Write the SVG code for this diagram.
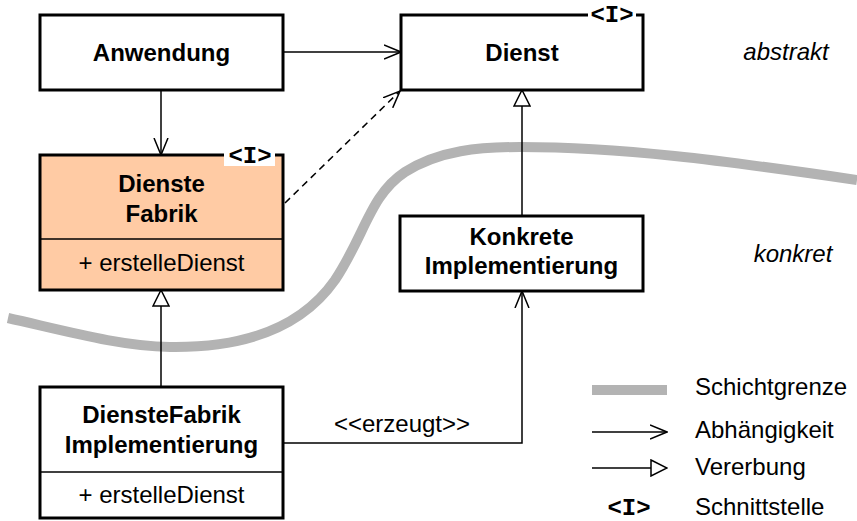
<svg xmlns="http://www.w3.org/2000/svg" width="857" height="521" viewBox="0 0 857 521">
<defs>
<style>
.box{fill:#fff;stroke:#000;stroke-width:3}
.peach{fill:#FFCBA4;stroke:#000;stroke-width:3}
.div{stroke:#000;stroke-width:1.5}
.b{font-family:"Liberation Sans",Arial,sans-serif;font-size:24px;font-weight:bold;text-anchor:middle;fill:#000}
.r{font-family:"Liberation Sans",Arial,sans-serif;font-size:24px;text-anchor:middle;fill:#000}
.l{font-family:"Liberation Sans",Arial,sans-serif;font-size:24px;fill:#000}
.it{font-family:"Liberation Sans",Arial,sans-serif;font-size:24px;font-style:italic;text-anchor:middle;fill:#000}
.mono{font-family:"Liberation Mono","Courier New",monospace;font-size:24px;font-weight:bold;text-anchor:middle;fill:#000}
.conn{fill:none;stroke:#000;stroke-width:1.5}
.dash{stroke-dasharray:7,5}
.layer{fill:none;stroke:#b3b3b3;stroke-width:10}
</style>
<marker id="open" viewBox="0 0 18 16" refX="17" refY="8" markerWidth="18" markerHeight="16" markerUnits="userSpaceOnUse" orient="auto">
<path d="M0,1 L17,8 L0,15" fill="none" stroke="#000" stroke-width="1.5"/>
</marker>
<marker id="tri" viewBox="0 0 18 18" refX="17" refY="9" markerWidth="18" markerHeight="18" markerUnits="userSpaceOnUse" orient="auto">
<path d="M1,1 L17,9 L1,17 Z" fill="#fff" stroke="#000" stroke-width="1.5"/>
</marker>
</defs>
<rect width="857" height="521" fill="#fff"/>

<path class="layer" d="M8,318 C70,332 120,346 170,347 C240,348 300,330 335,280 C365,235 370,195 405,172 C440,150 480,147 520,147 C620,147 720,160 857,180"/>

<g id="connectors">
<line class="conn" x1="283" y1="52" x2="401" y2="52" marker-end="url(#open)"/>
<line class="conn" x1="161" y1="90" x2="161" y2="155" marker-end="url(#open)"/>
<line class="conn dash" x1="285" y1="203" x2="400" y2="91" marker-end="url(#open)"/>
<line class="conn" x1="522" y1="216" x2="522" y2="90" marker-end="url(#tri)"/>
<line class="conn" x1="161" y1="387" x2="161" y2="290" marker-end="url(#tri)"/>
<polyline class="conn" points="283,443 522,443 522,291" marker-end="url(#open)"/>
<text class="r" x="402" y="432">&lt;&lt;erzeugt&gt;&gt;</text>
</g>

<g id="anwendung">
<rect class="box" x="40" y="15" width="243" height="75"/>
<text class="b" x="161.5" y="61">Anwendung</text>
</g>

<g id="dienst">
<rect class="box" x="401" y="15" width="242" height="75"/>
<text class="b" x="522" y="61">Dienst</text>
<rect x="588" y="6" width="48" height="18" fill="#fff"/>
<text class="mono" x="612" y="22">&lt;I&gt;</text>
</g>

<g id="dienste-fabrik">
<rect class="peach" x="40" y="155" width="243" height="135"/>
<line class="div" x1="40" y1="239" x2="283" y2="239"/>
<text class="b" x="161.5" y="192">Dienste</text>
<text class="b" x="161.5" y="222">Fabrik</text>
<text class="r" x="161.5" y="271">+ erstelleDienst</text>
<rect x="224" y="146" width="51" height="20" fill="#fff"/>
<text class="mono" x="250" y="163">&lt;I&gt;</text>
</g>

<g id="konkrete-implementierung">
<rect class="box" x="400" y="216" width="243" height="75"/>
<text class="b" x="521.5" y="245">Konkrete</text>
<text class="b" x="521.5" y="274">Implementierung</text>
</g>

<g id="dienstefabrik-implementierung">
<rect class="box" x="40" y="387" width="243" height="131"/>
<line class="div" x1="40" y1="472" x2="283" y2="472"/>
<text class="b" x="161.5" y="423">DiensteFabrik</text>
<text class="b" x="161.5" y="453">Implementierung</text>
<text class="r" x="161.5" y="503">+ erstelleDienst</text>
</g>

<text class="it" x="786" y="60">abstrakt</text>
<text class="it" x="793" y="262">konkret</text>

<g id="legend">
<rect x="592" y="385" width="75" height="10" fill="#b3b3b3"/>
<text class="l" x="695" y="395">Schichtgrenze</text>
<line class="conn" x1="592" y1="432" x2="667" y2="432" marker-end="url(#open)"/>
<text class="l" x="695" y="438">Abhängigkeit</text>
<line class="conn" x1="592" y1="468" x2="667" y2="468" marker-end="url(#tri)"/>
<text class="l" x="695" y="475">Vererbung</text>
<text class="mono" x="629" y="515">&lt;I&gt;</text>
<text class="l" x="695" y="515">Schnittstelle</text>
</g>
</svg>
